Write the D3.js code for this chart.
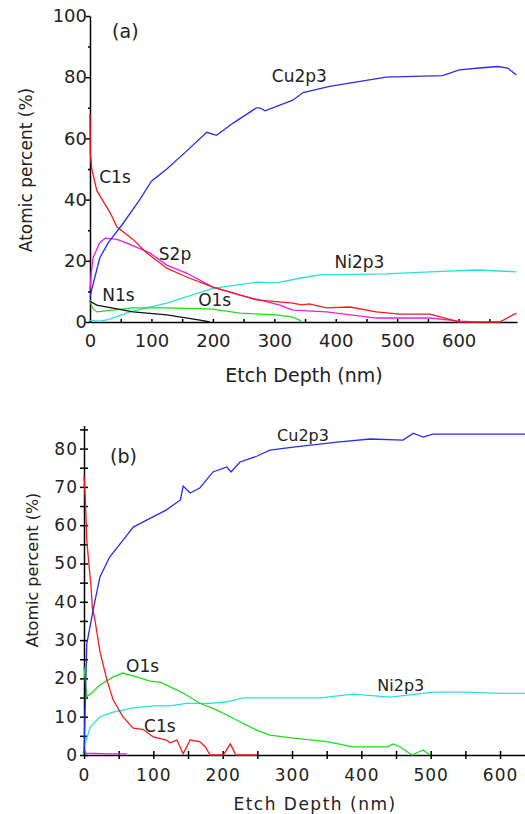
<!DOCTYPE html>
<html>
<head>
<meta charset="utf-8">
<script src="https://cdn.jsdelivr.net/npm/d3@7"></script>
<style>
  body { margin: 0; background: #fff; }
  svg text { font-family: "DejaVu Sans", sans-serif; fill: #222; }
  .axis path, .axis line { stroke: #000; stroke-width: 1.5; }
</style>
</head>
<body>
<div id="chart"></div>
<script>
//Datos panel (a): [profundidad nm, %]
const aCu = [[0,8],[2,10],[8,14.7],[16,21],[30,26],[52,31.7],[81,40],[100,46],[125,50],[158,56],[190,62],[206,61],[233,65],[271,70],[276,70],[285,69],[330,72.5],[347,75],[390,77],[482,80],[574,80.5],[601,82.4],[634,83],[663,83.5],[680,83],[694,80.7]];
const aC = [[0,68],[0.5,55],[3,50],[11,43],[33,35.6],[44,31],[70,27],[93,22.5],[125,17.6],[157,14.7],[200,11.4],[233,9.5],[271,7.2],[330,6.2],[345,5.6],[357,5.9],[385,4.6],[423,4.9],[466,3.3],[504,2.6],[553,2.6],[590,0.6],[600,0],[667,0],[694,2.9]];
const aS = [[0,10.5],[2,16],[5,21],[16,26],[25,27.4],[44,27],[60,25.8],[81,24],[98,22.5],[125,18.6],[157,16],[200,11.4],[244,8.8],[276,7.2],[309,5.5],[330,3.9],[385,3.3],[466,1.3],[553,1.3],[601,0.3],[628,0]];
const aNi = [[0,0.5],[16,0.3],[30,0.8],[65,3.3],[125,6.2],[200,11],[271,13],[304,12.8],[341,14.3],[374,15.4],[482,15.7],[553,16.4],[630,17],[694,16.4]];
const aO = [[0,7.2],[4,4.5],[11,3.3],[70,4.6],[125,4.6],[200,4.2],[244,2.9],[276,2.6],[304,2.3],[330,1.6],[341,0.6],[345,0]];
const aN = [[0,6.8],[11,5.5],[70,3.3],[125,2.3],[179,0.6],[195,0]];

//Datos panel (b)
const bCu = [[0,0.5],[4,29],[14,38.6],[23,46.5],[37,51.7],[62,57.4],[71,59.5],[91,61.4],[119,64],[139,66.6],[143,70.2],[153,68.4],[167,69.7],[186,73.9],[206,75.2],[212,73.9],[225,76.5],[249,78],[268,79.6],[302,80.4],[365,81.7],[413,82.5],[460,82.2],[475,84],[489,83],[503,83.8],[543,83.8],[636,83.8]];
const bC = [[0,73],[2,66.6],[4,56],[7,50],[10,44.4],[12,38.6],[16,35],[23,27],[33,19.6],[42,14.4],[56,10],[71,7],[85,6.7],[100,4.7],[119,3.9],[124,3.2],[134,3.9],[143,0.3],[153,3.9],[167,3.5],[175,2.1],[182,0],[201,0],[211,2.9],[219,0],[250,0]];
const bS = [[0,1.5],[3,0.5],[36,0.3],[48,0.3],[62,0.3]];
const bO = [[0,23],[4,15.2],[13,16.5],[23,18.3],[42,20.4],[56,21.4],[76,20.4],[95,19.3],[110,19],[129,17.4],[143,16.2],[167,13.5],[192,11.7],[215,9.6],[249,6.5],[268,5.2],[302,4.4],[350,3.5],[388,2.1],[437,2.1],[446,2.9],[456,2.1],[473,0],[489,1.3],[499,0]];
const bNi = [[0,2],[9,7.3],[23,10],[42,11.2],[71,12.3],[100,12.8],[124,12.8],[148,13.5],[182,13.5],[206,13.9],[230,14.9],[341,14.9],[388,15.9],[442,15.1],[504,16.4],[553,16.4],[600,16.1],[636,16.1]];

//Etiquetas de ejes
const aYTicks = [0, 20, 40, 60, 80, 100];
const aXTicks = [0, 100, 200, 300, 400, 500, 600];
const bYTicks = [0, 10, 20, 30, 40, 50, 60, 70, 80];
const bXTicks = [0, 100, 200, 300, 400, 500, 600];

//Colores fijos
const BLUE = '#2b2bf0', RED = '#f21c1c', MAGENTA = '#e51ee5', CYAN = '#25e0e0', GREEN = '#1fdc1f', BLACK = '#111';

let svg = d3.select('#chart').append('svg')
    .attr('width', 525)
    .attr('height', 814);

let line = function(x, y) {
    return d3.line().x(function(d) { return x(d[0]); }).y(function(d) { return y(d[1]); });
};

/////
// Panel (a)
/////
let xa = d3.scaleLinear().domain([0, 695]).range([90, 517]);
let ya = d3.scaleLinear().domain([0, 100]).range([322, 16]);

let ga = svg.append('g');

ga.append('g')
    .attr('class', 'axis')
    .attr('transform', 'translate(0,' + ya(0) + ')')
    .call(d3.axisBottom(xa).tickValues(d3.range(0, 695, 50)).tickSize(-3).tickSizeOuter(0)
        .tickFormat(function(d) { return aXTicks.indexOf(d) >= 0 ? d : ''; }))
    .call(function(g) {
        g.selectAll('.tick text').attr('dy', '1.05em').attr('y', 6).style('font-size', '18px');
    });

ga.append('g')
    .attr('class', 'axis')
    .attr('transform', 'translate(' + xa(0) + ',0)')
    .call(d3.axisLeft(ya).tickValues(d3.range(0, 101, 10)).tickSize(4).tickSizeOuter(0)
        .tickFormat(function(d) { return aYTicks.indexOf(d) >= 0 ? d : ''; }))
    .call(function(g) {
        g.selectAll('.tick text').attr('x', -3).style('font-size', '18px');
        g.selectAll('.tick line').attr('x2', function(d) { return d % 20 == 0 ? -4 : -2; });
    });

[[aNi, CYAN], [aO, GREEN], [aN, BLACK], [aS, MAGENTA], [aC, RED], [aCu, BLUE]].forEach(function(s) {
    ga.append('path')
        .datum(s[0])
        .attr('fill', 'none')
        .attr('stroke', s[1])
        .attr('stroke-width', 1.3)
        .attr('d', line(xa, ya));
});

let aLabels = [['(a)', 36, 92.8, 19], ['Cu2p3', 296, 78.4, 17], ['C1s', 15, 45.4, 17], ['S2p', 112, 20.3, 17], ['N1s', 20, 6.9, 17], ['O1s', 176, 5.2, 17], ['Ni2p3', 398, 17.6, 17]];
ga.selectAll('.lbl')
    .data(aLabels)
    .enter()
    .append('text')
    .attr('x', function(d) { return xa(d[1]); })
    .attr('y', function(d) { return ya(d[2]); })
    .style('font-size', function(d) { return d[3] + 'px'; })
    .text(function(d) { return d[0]; });

ga.append('text')
    .attr('x', 304).attr('y', 382)
    .attr('text-anchor', 'middle')
    .style('font-size', '19px')
    .text('Etch Depth (nm)');

ga.append('text')
    .attr('transform', 'translate(32,170) rotate(-90)')
    .attr('text-anchor', 'middle')
    .style('font-size', '17px')
    .text('Atomic percent (%)');

/////
// Panel (b)
/////
let xb = d3.scaleLinear().domain([0, 636]).range([84, 525]);
let yb = d3.scaleLinear().domain([0, 86]).range([755, 425.6]);

let gb = svg.append('g');

gb.append('g')
    .attr('class', 'axis')
    .attr('transform', 'translate(0,' + yb(0) + ')')
    .call(d3.axisBottom(xb).tickValues(d3.range(0, 636, 50)).tickSize(4).tickSizeOuter(0)
        .tickFormat(function(d) { return bXTicks.indexOf(d) >= 0 ? d : ''; }))
    .call(function(g) {
        g.selectAll('.tick line').attr('y1', -4);
        g.selectAll('.tick text').attr('y', 9).attr('dy', '1.0em').style('font-size', '17px').style('letter-spacing', '1px');
    });

gb.append('g')
    .attr('class', 'axis')
    .attr('transform', 'translate(' + xb(0) + ',0)')
    .call(d3.axisLeft(yb).tickValues(d3.range(0, 86, 5)).tickSize(4).tickSizeOuter(0)
        .tickFormat(function(d) { return bYTicks.indexOf(d) >= 0 ? d : ''; }))
    .call(function(g) {
        g.selectAll('.tick line').attr('x1', 4);
        g.selectAll('.tick text').attr('x', -6).style('font-size', '17px').style('letter-spacing', '1px');
    });

[[bNi, CYAN], [bO, GREEN], [bS, MAGENTA], [bC, RED], [bCu, BLUE]].forEach(function(s) {
    gb.append('path')
        .datum(s[0])
        .attr('fill', 'none')
        .attr('stroke', s[1])
        .attr('stroke-width', 1.3)
        .attr('d', line(xb, yb));
});

let bLabels = [['(b)', 37.5, 76.2, 19], ['Cu2p3', 278.5, 82, 16], ['O1s', 60.6, 21.7, 17], ['C1s', 86.6, 6, 17], ['Ni2p3', 423, 16.7, 16]];
gb.selectAll('.lbl')
    .data(bLabels)
    .enter()
    .append('text')
    .attr('x', function(d) { return xb(d[1]); })
    .attr('y', function(d) { return yb(d[2]); })
    .style('font-size', function(d) { return d[3] + 'px'; })
    .text(function(d) { return d[0]; });

gb.append('text')
    .attr('x', 315).attr('y', 810)
    .attr('text-anchor', 'middle')
    .style('font-size', '17px')
    .style('letter-spacing', '1.5px')
    .text('Etch Depth (nm)');

gb.append('text')
    .attr('transform', 'translate(38,570) rotate(-90)')
    .attr('text-anchor', 'middle')
    .style('font-size', '16px')
    .text('Atomic percent (%)');
</script>
</body>
</html>
